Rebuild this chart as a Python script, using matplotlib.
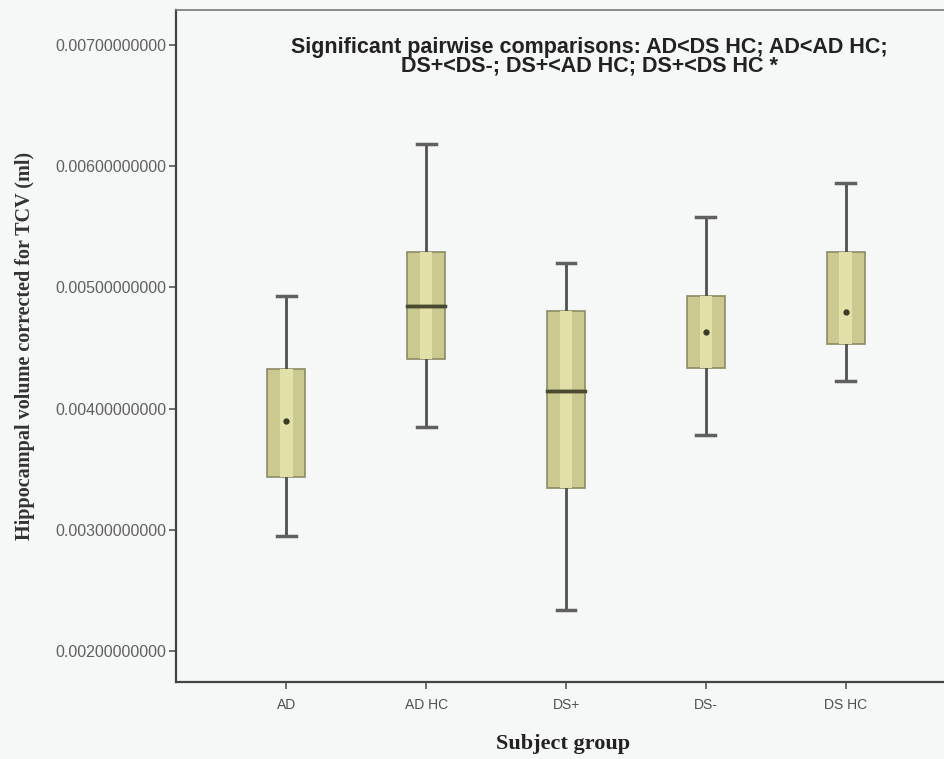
import matplotlib
matplotlib.use("Agg")
import matplotlib.pyplot as plt

groups = ["AD", "AD HC", "DS+", "DS-", "DS HC"]
whisker_low = [0.00295, 0.00385, 0.00234, 0.00378, 0.00423]
q1 = [0.00344, 0.00441, 0.00335, 0.00434, 0.00453]
median = [0.00390, 0.00485, 0.00415, 0.00463, 0.00480]
q3 = [0.00433, 0.00529, 0.00481, 0.00493, 0.00529]
whisker_high = [0.00493, 0.00618, 0.00520, 0.00558, 0.00586]
dot_median = [True, False, False, True, True]

yticks = [0.002, 0.003, 0.004, 0.005, 0.006, 0.007]
title = ("Significant pairwise comparisons: AD<DS HC; AD<AD HC;\n"
         "DS+<DS-; DS+<AD HC; DS+<DS HC *")

fig = plt.figure(figsize=(9.45, 7.59), dpi=100, facecolor="#f6f7f7")
ax = fig.add_axes([0.186, 0.101, 0.82, 0.886])
ax.set_facecolor("#f6f7f7")

pos = list(range(1, len(groups) + 1))
stats = []
for i, g in enumerate(groups):
    stats.append({"label": g, "whislo": whisker_low[i], "q1": q1[i], "med": median[i],
                  "q3": q3[i], "whishi": whisker_high[i], "fliers": []})

bp = ax.bxp(stats, positions=pos, widths=0.27, patch_artist=True,
            boxprops=dict(facecolor="#c9c990", edgecolor="#8c8c66", linewidth=1.2),
            whiskerprops=dict(color="#505050", linewidth=2),
            capprops=dict(color="#606060", linewidth=2.5),
            medianprops=dict(color="#4a4a30", linewidth=2.5))
# lighter strip in the middle of each box
ax.bxp(stats, positions=pos, widths=0.09, patch_artist=True, showcaps=False,
       boxprops=dict(facecolor="#e0e0a8", edgecolor="none", linewidth=0),
       whiskerprops=dict(color="#505050", linewidth=0),
       medianprops=dict(color="#4a4a30", linewidth=0))
for i in range(len(groups)):
    if dot_median[i]:
        bp["medians"][i].set_visible(False)
        ax.plot(pos[i], median[i], "o", color="#3a3a25", ms=3.5, zorder=5)
    else:
        ax.plot([pos[i] - 0.135, pos[i] + 0.135], [median[i], median[i]],
                color="#4a4a30", lw=2.5, zorder=5)

ax.set_xlim(0.21, 5.75)
ax.set_ylim(0.001744, 0.007289)
ax.set_xticks(pos)
ax.set_xticklabels(groups, fontsize=10, color="#505050", family="Liberation Sans")
ax.set_yticks(yticks)
ax.set_yticklabels(["%.11f" % v for v in yticks], fontsize=11.5, color="#606060",
                   family="Liberation Sans")
ax.tick_params(axis="both", direction="out", length=5, width=1.2, color="#555555")
ax.tick_params(axis="y", pad=2)
ax.tick_params(axis="x", pad=6)

for s in ["left", "bottom"]:
    ax.spines[s].set_color("#444444")
    ax.spines[s].set_linewidth(1.6)
ax.spines["top"].set_color("#777777")
ax.spines["top"].set_linewidth(1.2)
ax.spines["right"].set_visible(False)

fig.text(0.624, 0.925, title, ha="center", va="center",
         fontsize=15.5, fontweight="bold", family="Liberation Sans", color="#222222",
         linespacing=0.85)

ax.set_ylabel("Hippocampal volume corrected for TCV (ml)", fontsize=14.5,
              fontweight="bold", family="Liberation Serif", color="#333333", labelpad=14)
ax.set_xlabel("Subject group", fontsize=16, fontweight="bold",
              family="Liberation Serif", color="#222222", labelpad=16)

fig.savefig("out.png", dpi=100, facecolor=fig.get_facecolor())
